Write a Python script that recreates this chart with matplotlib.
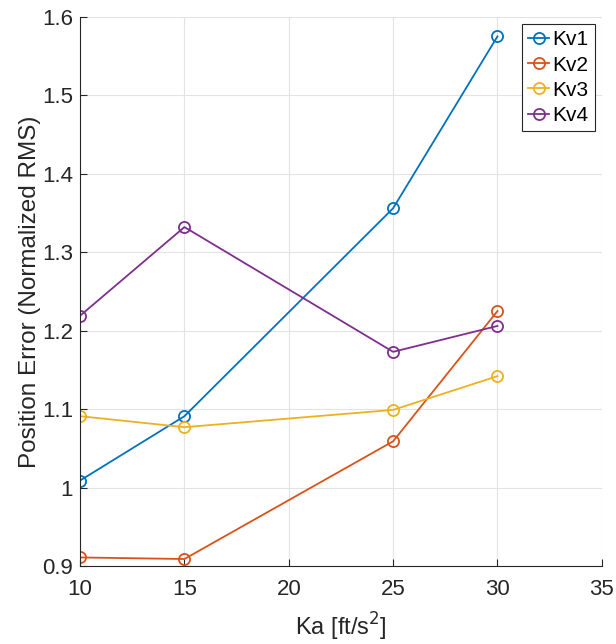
import matplotlib
matplotlib.use("Agg")
import matplotlib.pyplot as plt

ka = [10, 15, 25, 30]
kv1 = [1.009, 1.091, 1.356, 1.575]
kv2 = [0.911, 0.909, 1.059, 1.225]
kv3 = [1.091, 1.077, 1.099, 1.142]
kv4 = [1.219, 1.332, 1.173, 1.206]
series = [("Kv1", kv1, "#0072BD"), ("Kv2", kv2, "#D95319"),
          ("Kv3", kv3, "#EDB120"), ("Kv4", kv4, "#7E2F8E")]
xticks = [10, 15, 20, 25, 30, 35]
yticks = [0.9, 1.0, 1.1, 1.2, 1.3, 1.4, 1.5, 1.6]
ytick_labels = ["0.9", "1", "1.1", "1.2", "1.3", "1.4", "1.5", "1.6"]

plt.rcParams['font.family'] = ['Liberation Sans', 'DejaVu Sans']
fig = plt.figure(figsize=(6.16, 6.44), dpi=100)
ax = fig.add_axes([0.130, 0.121, 0.847, 0.853])

for name, vals, col in series:
    ax.plot(ka, vals, color=col, lw=1.3, marker='o', markersize=8,
            markerfacecolor='none', markeredgewidth=1.3, label=name)

ax.set_xlim(10, 35)
ax.set_ylim(0.9, 1.6)
ax.set_xticks(xticks)
ax.set_yticks(yticks)
ax.set_yticklabels(ytick_labels)
ax.grid(True, color='#e3e3e3', lw=0.8)
ax.set_axisbelow(True)
for s in ['top', 'right']:
    ax.spines[s].set_visible(False)
for s in ['left', 'bottom']:
    ax.spines[s].set_color('#262626')
    ax.spines[s].set_linewidth(0.8)
ax.tick_params(direction='in', length=5, colors='#262626', labelsize=16, width=0.8)
ax.tick_params(axis='x', pad=9)
ax.tick_params(axis='y', pad=5)
ax.set_xlabel("Ka [ft/s$^2$]", fontsize=17, color='#262626', labelpad=8)
ax.set_ylabel("Position Error (Normalized RMS)", fontsize=17.5, color='#262626', labelpad=1)
leg = ax.legend(loc='upper right', fontsize=15, fancybox=False, framealpha=1,
                edgecolor='#262626', handlelength=1.0, handletextpad=0.15,
                borderpad=0.3, labelspacing=0.3, borderaxespad=0.35)
leg.get_frame().set_linewidth(0.8)
fig.savefig("out.png", dpi=100)
